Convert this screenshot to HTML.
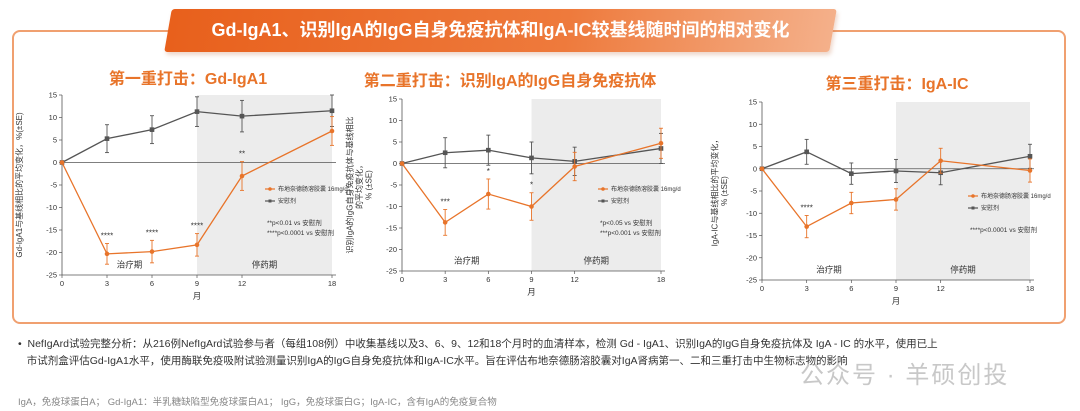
<!DOCTYPE html>
<html><head><meta charset="utf-8">
<style>
body{margin:0;width:1080px;height:411px;background:#fff;overflow:hidden;font-family:"Liberation Sans","Noto Sans CJK SC",sans-serif;position:relative}
.frame{position:absolute;left:12px;top:30px;width:1054px;height:294px;border:2px solid #f0a070;border-radius:8px;box-sizing:border-box}
.banner{position:absolute;left:168px;top:9px;width:665px;height:43px;transform:skewX(-10deg);background:linear-gradient(90deg,#e8601c 0%,#ee7a3c 60%,#f4b08a 100%);border-radius:3px;box-shadow:2px 3px 4px rgba(200,120,80,.3)}
.btxt{position:absolute;left:168px;top:9px;width:665px;height:43px;line-height:43px;text-align:center;color:#fff;font-weight:bold;font-size:18px}
.ctitle{position:absolute;color:#e8742a;font-weight:bold;font-size:16px;white-space:nowrap;transform:translateX(-50%)}
svg{position:absolute;left:0;top:0}
.note{position:absolute;font-size:10.5px;color:#333;line-height:17px}
</style></head><body>
<div class="frame"></div>
<div class="banner"></div>
<div class="btxt">Gd-IgA1、识别IgA的IgG自身免疫抗体和IgA-IC较基线随时间的相对变化</div>
<div class="ctitle" style="left:188px;top:65px">第一重打击：Gd-IgA1</div>
<div class="ctitle" style="left:510px;top:67px">第二重打击：识别IgA的IgG自身免疫抗体</div>
<div class="ctitle" style="left:897px;top:70px">第三重打击：IgA-IC</div>
<svg id="s" width="1080" height="411"></svg>
<div class="note" style="left:18px;top:336px;width:1040px">• &nbsp;NefIgArd试验完整分析：从216例NefIgArd试验参与者（每组108例）中收集基线以及3、6、9、12和18个月时的血清样本，检测 Gd - IgA1、识别IgA的IgG自身免疫抗体及 IgA - IC 的水平，使用已上<br>&nbsp;&nbsp;&nbsp;市试剂盒评估Gd-IgA1水平，使用酶联免疫吸附试验测量识别IgA的IgG自身免疫抗体和IgA-IC水平。旨在评估布地奈德肠溶胶囊对IgA肾病第一、二和三重打击中生物标志物的影响</div>
<div style="position:absolute;left:800px;top:355px;font-size:24px;color:#c8c8c8;letter-spacing:2px">公众号 · 羊硕创投</div>
<div style="position:absolute;left:18px;top:394px;font-size:9.5px;color:#888">IgA，免疫球蛋白A； Gd-IgA1：半乳糖缺陷型免疫球蛋白A1； IgG，免疫球蛋白G；IgA-IC，含有IgA的免疫复合物</div>
<script>
const months=[0,3,6,9,12,18];
const yTicks=[15,10,5,0,-5,-10,-15,-20,-25];
const c1Drug=[0,-20.3,-19.8,-18.3,-3,7];
const c1DrugErr=[0,2.3,2.5,2.5,3.2,3.2];
const c1Pbo=[0,5.3,7.3,11.3,10.3,11.5];
const c1PboErr=[0,3.1,3.1,3.3,3.5,3.5];
const c2Drug=[0,-13.7,-7.1,-10,-0.7,4.7];
const c2DrugErr=[0,3,3.5,3.2,3.3,3.5];
const c2Pbo=[0,2.5,3.1,1.3,0.5,3.5];
const c2PboErr=[0,3.5,3.5,3.7,3.3,3.5];
const c3Drug=[0,-13,-7.7,-6.9,1.8,-0.4];
const c3DrugErr=[0,2.5,2.4,2.4,2.8,2.6];
const c3Pbo=[0,3.8,-1.1,-0.5,-0.9,2.8];
const c3PboErr=[0,2.8,2.4,2.6,2.7,2.7];
const c1Stars=[[3,'****'],[6,'****'],[9,'****'],[12,'**']];
const c2Stars=[[3,'***'],[6,'*'],[9,'*']];
const c3Stars=[[3,'****']];
const svg=document.getElementById('s');const NS='http://www.w3.org/2000/svg';
function mk(t,a,txt){const e=document.createElementNS(NS,t);for(const k in a)e.setAttribute(k,a[k]);if(txt!==undefined)e.textContent=txt;svg.appendChild(e);return e;}
function chart(id,x0,x1,yTop,yBot,drug,dErr,pbo,pErr,stars,ylab,leg,notes){
 const X=m=>x0+(x1-x0)*m/18, Y=v=>yTop+(yBot-yTop)*(15-v)/40;
 let e=mk('rect',{x:X(9),y:yTop,width:X(18)-X(9),height:yBot-yTop,fill:'#ececec'});
 
 mk('line',{x1:x0,y1:yTop,x2:x0,y2:yBot,stroke:'#555','stroke-width':0.8});
 mk('line',{x1:x0,y1:yBot,x2:X(18)+4,y2:yBot,stroke:'#555','stroke-width':0.8});
 mk('line',{x1:x0,y1:Y(0),x2:X(18)+4,y2:Y(0),stroke:'#555','stroke-width':0.8});
 yTicks.forEach(t=>{mk('line',{x1:x0-3,y1:Y(t),x2:x0,y2:Y(t),stroke:'#555','stroke-width':0.7});
  e=mk('text',{x:x0-5,y:Y(t)+2.5,'font-size':7.5,'text-anchor':'end',fill:'#333'},t);});
 months.forEach(m=>{mk('line',{x1:X(m),y1:yBot,x2:X(m),y2:yBot+3,stroke:'#555','stroke-width':0.7});
  e=mk('text',{x:X(m),y:yBot+11,'font-size':7.5,'text-anchor':'middle',fill:'#333'},m);});
 e=mk('text',{x:X(9),y:yBot+24,'font-size':8.5,'text-anchor':'middle',fill:'#333'},'月');
 e=mk('text',{x:X(4.5),y:Y(-23.3),'font-size':8.5,'text-anchor':'middle',fill:'#333'},'治疗期');
 e=mk('text',{x:X(13.5),y:Y(-23.3),'font-size':8.5,'text-anchor':'middle',fill:'#333'},'停药期');
 const cx=x0-40,cy=(yTop+yBot)/2;
 e=mk('text',{x:cx,y:cy,'font-size':8,'text-anchor':'middle',fill:'#333',transform:`rotate(-90 ${cx} ${cy})`});
 
 ylab.forEach((l,i)=>{const ts=document.createElementNS(NS,'tspan');ts.setAttribute('x',cx);ts.setAttribute('dy',i?9.5:-(ylab.length-1)*4.75);ts.textContent=l;e.appendChild(ts);});
 [[pbo,pErr,'#555','placebo',true],[drug,dErr,'#e8742a','budesonide',false]].forEach(([v,er,c,n,sq])=>{
  e=mk('polyline',{points:months.map((m,i)=>X(m)+','+Y(v[i])).join(' '),fill:'none',stroke:c,'stroke-width':1.3});
  
  months.forEach((m,i)=>{
   if(er[i]>0){mk('line',{x1:X(m),y1:Y(v[i]+er[i]),x2:X(m),y2:Y(v[i]-er[i]),stroke:c,'stroke-width':0.9});
    mk('line',{x1:X(m)-2,y1:Y(v[i]+er[i]),x2:X(m)+2,y2:Y(v[i]+er[i]),stroke:c,'stroke-width':0.9});
    mk('line',{x1:X(m)-2,y1:Y(v[i]-er[i]),x2:X(m)+2,y2:Y(v[i]-er[i]),stroke:c,'stroke-width':0.9});}
   e=sq?mk('rect',{x:X(m)-2.3,y:Y(v[i])-2.3,width:4.6,height:4.6,fill:c}):mk('circle',{cx:X(m),cy:Y(v[i]),r:2.3,fill:c});
   });
 });
 stars.forEach(([m,s])=>{const i=months.indexOf(m);const top=drug[i]+dErr[i];
  e=mk('text',{x:X(m),y:Y(top)-5,'font-size':8,'text-anchor':'middle',fill:'#333'},s);});
 const [lx,ly]=leg;
 mk('line',{x1:lx,y1:ly,x2:lx+10,y2:ly,stroke:'#e8742a','stroke-width':1.2});mk('circle',{cx:lx+5,cy:ly,r:1.8,fill:'#e8742a'});
 e=mk('text',{x:lx+13,y:ly+2,'font-size':6,fill:'#333'},'布地奈德肠溶胶囊 16mg/d');
 mk('line',{x1:lx,y1:ly+12,x2:lx+10,y2:ly+12,stroke:'#555','stroke-width':1.2});mk('rect',{x:lx+3.5,y:ly+10.5,width:3,height:3,fill:'#555'});
 e=mk('text',{x:lx+13,y:ly+14,'font-size':6,fill:'#333'},'安慰剂');
 notes.forEach((t,i)=>{e=mk('text',{x:lx+2,y:ly+36+i*10,'font-size':6.5,fill:'#333'},t);});
}
chart('chart1',62,332,95,275,c1Drug,c1DrugErr,c1Pbo,c1PboErr,c1Stars,['Gd-IgA1与基线相比的平均变化，%(±SE)'],[265,189],['**p<0.01 vs  安慰剂','****p<0.0001 vs  安慰剂']);
chart('chart2',402,661,99,271,c2Drug,c2DrugErr,c2Pbo,c2PboErr,c2Stars,['识别IgA的IgG自身免疫抗体与基线相比','的平均变化，','% (±SE)'],[598,189],['*p<0.05 vs  安慰剂','***p<0.001 vs  安慰剂']);
chart('chart3',762,1030,102,280,c3Drug,c3DrugErr,c3Pbo,c3PboErr,c3Stars,['IgA-IC与基线相比的平均变化，','% (±SE)'],[968,196],['****p<0.0001 vs  安慰剂']);
</script>
</body></html>
